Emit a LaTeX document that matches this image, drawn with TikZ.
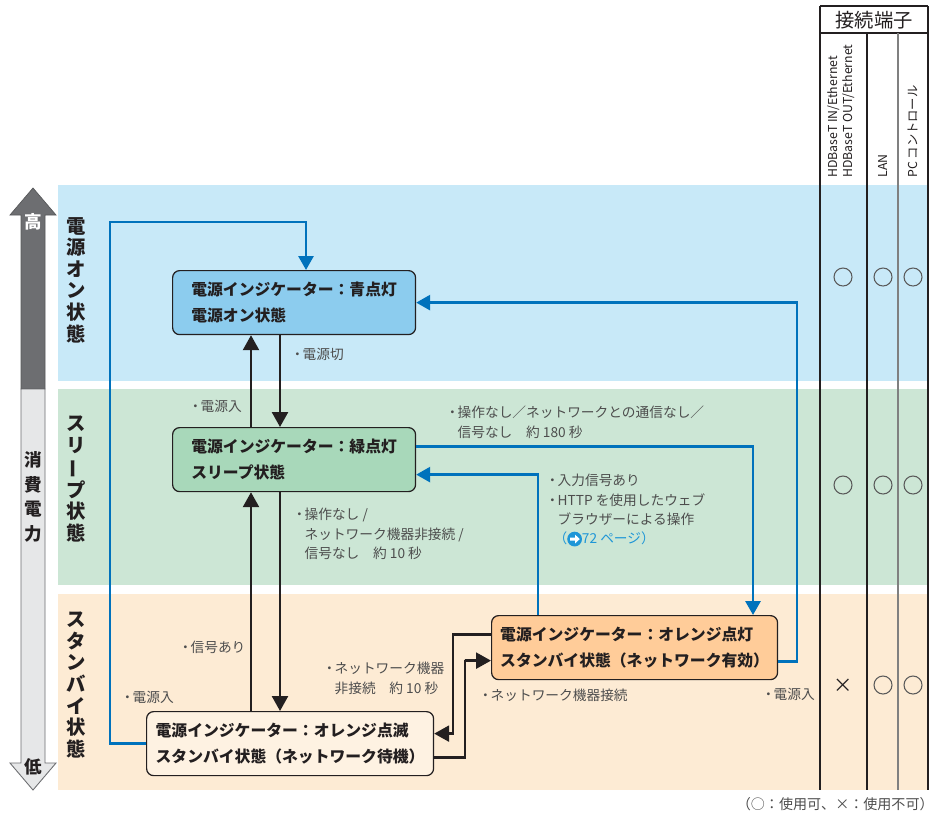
\documentclass[tikz,border=0pt]{standalone}
\usepackage{fontspec}
\setmainfont{Noto Sans CJK JP}
\usepackage{graphicx}
\usepackage{tikz}
\usetikzlibrary{arrows.meta,positioning,calc}
\definecolor{ink}{RGB}{35,31,32}
\definecolor{notegray}{RGB}{77,77,77}
\definecolor{cblue}{RGB}{0,114,188}
\definecolor{linkblue}{RGB}{30,150,215}
\definecolor{onband}{RGB}{200,233,248}
\definecolor{sleepband}{RGB}{204,230,213}
\definecolor{standband}{RGB}{253,235,212}
\definecolor{onfill}{RGB}{140,204,238}
\definecolor{sleepfill}{RGB}{168,216,186}
\definecolor{netfill}{RGB}{255,204,153}
\definecolor{waitfill}{RGB}{254,242,226}
\definecolor{powdark}{RGB}{109,110,113}
\definecolor{powlight}{RGB}{230,231,232}
\definecolor{markgray}{RGB}{90,90,90}
\newcommand{\bul}{\makebox[0.75em][c]{・}}
\newcommand{\vbar}{\rotatebox[origin=c]{90}{ー}}
\newcommand{\gopage}{\tikz[x=1pt,y=1pt,baseline=-2.7pt]{\fill[linkblue] (0,0) circle (4.2pt);
  \fill[white] (-2.6,0.9) -- (0.3,0.9) -- (0.3,2.5) -- (2.9,0) -- (0.3,-2.5) -- (0.3,-0.9) -- (-2.6,-0.9) -- cycle;}}
\tikzset{
  state/.style={draw=ink,line width=0.7pt,rounded corners=4pt,minimum height=1.28cm,
    align=left,inner xsep=3pt,text=ink,font=\fontsize{9}{14.5}\selectfont\bfseries},
  flow/.style={line width=1.4pt,ink,-{Triangle[length=3mm,width=3.2mm]}},
  bflow/.style={line width=1.6pt,cblue,-{Triangle[length=2.8mm,width=3mm]}},
  note/.style={font=\fontsize{7.8}{11}\selectfont,text=notegray,align=left,inner sep=0pt},
  bandlbl/.style={font=\fontsize{11}{12.3}\selectfont\bfseries,text=ink,align=center,inner sep=0pt},
  scaletxt/.style={font=\fontsize{10}{14}\selectfont\bfseries,text=ink,align=center,inner sep=0pt},
  tabline/.style={ink,line width=0.6pt},
  colhead/.style={font=\fontsize{7}{8.5}\selectfont,text=ink,align=left,rotate=90,anchor=west,inner sep=0pt},
  yes/.style={circle,draw=markgray,line width=0.6pt,minimum size=0.36cm,inner sep=0pt},
  no/.style={font=\fontsize{11}{12}\selectfont,text=ink,inner sep=0pt}
}
\begin{document}
\begin{tikzpicture}[x=0.02cm,y=-0.02cm]
  \useasboundingbox (0,0) rectangle (939,816);
  \fill[white] (0,0) rectangle (939,816);
  % state bands
  \fill[onband] (58,185) rectangle (928,381);
  \fill[sleepband] (58,389) rectangle (928,585);
  \fill[standband] (58,594) rectangle (928,790);
  % power scale
  \filldraw[fill=powdark,draw=powdark!80!black,line width=0.4pt] (33,188) -- (56,215) -- (45,215) -- (45,389)
    -- (21,389) -- (21,215) -- (10,215) -- cycle;
  \filldraw[fill=powlight,draw=powdark,line width=0.5pt] (21,389) -- (45,389) -- (45,763) -- (56,763)
    -- (33,790) -- (10,763) -- (21,763) -- cycle;
  \node[scaletxt,text=white] (hi) at (33,222) {高};
  \node[scaletxt] (pw) at (33,497) {消\\費\\電\\力};
  \node[scaletxt] (lo) at (33,767) {低};
  \node[bandlbl] (lon) at (76,280) {電\\源\\オ\\ン\\状\\態};
  \node[bandlbl] (lsleep) at (76,479) {ス\\リ\\\vbar\\プ\\状\\態};
  \node[bandlbl] (lstand) at (76,685) {ス\\タ\\ン\\バ\\イ\\状\\態};
  % terminal table
  \draw[tabline] (820,6) -- (928,6);
  \draw[tabline] (820,33) -- (928,33);
  \draw[tabline] (820,6) -- (820,790);
  \draw[tabline] (928,6) -- (928,790);
  \draw[tabline] (867,33) -- (867,790);
  \draw[tabline,draw=gray] (898,33) -- (898,790);
  \node[font=\fontsize{11}{12}\selectfont,text=ink] (term) at (874,20) {接続端子};
  \node[colhead] (hdbt) at (841,178) {HDBaseT IN/Ethernet\\HDBaseT OUT/Ethernet};
  \node[colhead] (lan) at (883,178) {LAN};
  \node[colhead] (pcc) at (913,178) {PC コントロール};
  \foreach \y/\r in {277/on,485/sl} {
    \node[yes] (\r-hd) at (843,\y) {};
    \node[yes] (\r-lan) at (883,\y) {};
    \node[yes] (\r-pc) at (913,\y) {};
  }
  \node[no] (st-hd) at (843,686) {×};
  \node[yes] (st-lan) at (883,685) {};
  \node[yes] (st-pc) at (913,685) {};
  % states
  \node[state,fill=onfill,minimum width=4.86cm,anchor=north west] (on) at (172,270)
    {電源インジケーター：青点灯\\電源オン状態};
  \node[state,fill=sleepfill,minimum width=4.86cm,anchor=north west] (sleep) at (172,427)
    {電源インジケーター：緑点灯\\スリープ状態};
  \node[state,fill=netfill,minimum width=5.72cm,anchor=north west] (net) at (491,615)
    {電源インジケーター：オレンジ点灯\\スタンバイ状態（ネットワーク有効）};
  \node[state,fill=waitfill,minimum width=5.74cm,anchor=north west] (wait) at (146,711)
    {電源インジケーター：オレンジ点滅\\スタンバイ状態（ネットワーク待機）};
  % connector columns
  \coordinate (xa) at (251,0);
  \coordinate (xb) at (280,0);
  \coordinate (xc) at (306,0);
  \coordinate (lt) at (110,222);
  \coordinate (rtx) at (797,0);
  \coordinate (dx) at (753,0);
  \coordinate (ux) at (538,0);
  \coordinate (lx) at (453,733);
  \coordinate (rx) at (465,660);
  % transitions
  \draw[flow] (xa |- sleep.north) -- (xa |- on.south);
  \draw[flow] (xb |- on.south) -- (xb |- sleep.north);
  \draw[flow] (xa |- wait.north) -- (xa |- sleep.south);
  \draw[flow] (xb |- sleep.south) -- (xb |- wait.north);
  \draw[flow] ([yshift=0.26cm]net.west) -| (lx) |- ([yshift=0.2cm]wait.east);
  \draw[flow] ([yshift=-0.28cm]wait.east) -| (rx) |- ([yshift=-0.26cm]net.west);
  \draw[bflow] (wait.west) -| (lt) -| (on.north -| xc);
  \draw[bflow] ([yshift=-0.28cm]net.east) -| (on.east -| rtx) -- (on.east);
  \draw[bflow] ([yshift=0.26cm]sleep.east) -| (net.north -| dx);
  \draw[bflow] (net.north -| ux) |- ([yshift=-0.3cm]sleep.east);
  % conditions
  \node[note,anchor=west] (off) at (292,354) {\bul 電源切};
  \node[note,anchor=west] (pon1) at (190,406) {\bul 電源入};
  \node[note,anchor=north west] (idle10) at (294,508)
    {\bul 操作なし /\\\hspace{0.75em}ネットワーク機器非接続 /\\\hspace{0.75em}信号なし　約 10 秒};
  \node[note,anchor=north west] (idle180) at (447,406)
    {\bul 操作なし／ネットワークとの通信なし／\\\hspace{0.75em}信号なし　約 180 秒};
  \node[note,anchor=north west,text depth=0pt] (wake) at (547,474)
    {\bul 入力信号あり\\\bul HTTP を使用したウェブ\\\hspace{0.75em}ブラウザーによる操作\\
     \hspace{0.45em}\textcolor{linkblue}{（\gopage 72 ページ）}};
  \node[note,anchor=west] (sig) at (180,647) {\bul 信号あり};
  \node[note,anchor=west] (pon2) at (122,697) {\bul 電源入};
  \node[note,anchor=north west] (nodev) at (324,662) {\bul ネットワーク機器\\\hspace{0.75em}非接続　約 10 秒};
  \node[note,anchor=west] (dev) at (480,695) {\bul ネットワーク機器接続};
  \node[note,anchor=west] (pon3) at (763,694) {\bul 電源入};
  \node[anchor=east,font=\fontsize{8}{9}\selectfont,text=notegray,inner sep=0pt] (legend) at (934,804)
    {（○：使用可、×：使用不可）};
\end{tikzpicture}
\end{document}
